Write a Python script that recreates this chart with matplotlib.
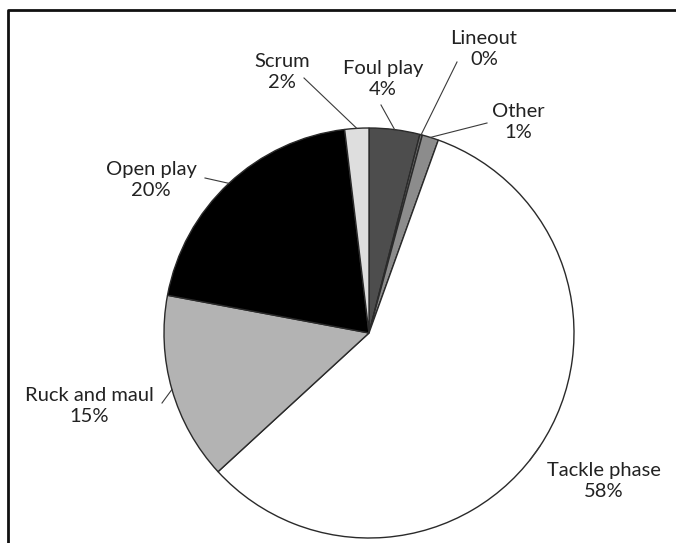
import numpy as np
import matplotlib
matplotlib.use("Agg")
import matplotlib.pyplot as plt

# Data (clockwise from 12 o'clock)
categories = ["Foul play", "Lineout", "Other", "Tackle phase", "Ruck and maul", "Open play", "Scrum"]
shares = [4, 0.2, 1.3, 57.8, 14.8, 20.2, 1.9]
pct_labels = ["4%", "0%", "1%", "58%", "15%", "20%", "2%"]
colors = ["#4d4d4d", "#6a6a6a", "#8c8c8c", "#ffffff", "#b3b3b3", "#000000", "#dedede"]

# Label layout in pixels (y up): text centre, leader-line end
label_xy = [(383, 464), (484, 494), (518, 421), (604, 62), (89, 137), (151, 363), (282, 471)]
line_end = [(381, 438), (457, 481), (487, 420), (530, 83), (162, 140), (205, 365), (304, 465)]

W, H = 676, 543
cx, cy, R = 369, H - 333, 205

plt.rcParams["font.family"] = ["Lato", "DejaVu Sans"]

fig = plt.figure(figsize=(W / 100, H / 100), dpi=100)
ax = fig.add_axes([0, 0, 1, 1])
ax.set_xlim(0, W)
ax.set_ylim(0, H)
ax.set_aspect("equal")
ax.axis("off")

wedges, _ = ax.pie(shares, colors=colors, startangle=90, counterclock=False,
                   center=(cx, cy), radius=R,
                   wedgeprops=dict(edgecolor="#2a2a2a", linewidth=1.0))
ax.set_xlim(0, W)
ax.set_ylim(0, H)

for w, name, pct, txy, lend in zip(wedges, categories, pct_labels, label_xy, line_end):
    mid = np.deg2rad((w.theta1 + w.theta2) / 2)
    px, py = cx + R * np.cos(mid), cy + R * np.sin(mid)
    ax.plot([px, lend[0]], [py, lend[1]], color="#3a3a3a", lw=0.8)
    ax.text(txy[0], txy[1], f"{name}\n{pct}", ha="center", va="center",
            fontsize=14.5, color="#222222", linespacing=1.3)

# Frame border (cropped on right and bottom)
ax.plot([8, 8, W + 5], [-5, H - 10, H - 10], color="#111111", lw=2, clip_on=False)

fig.savefig("out.png", dpi=100)
